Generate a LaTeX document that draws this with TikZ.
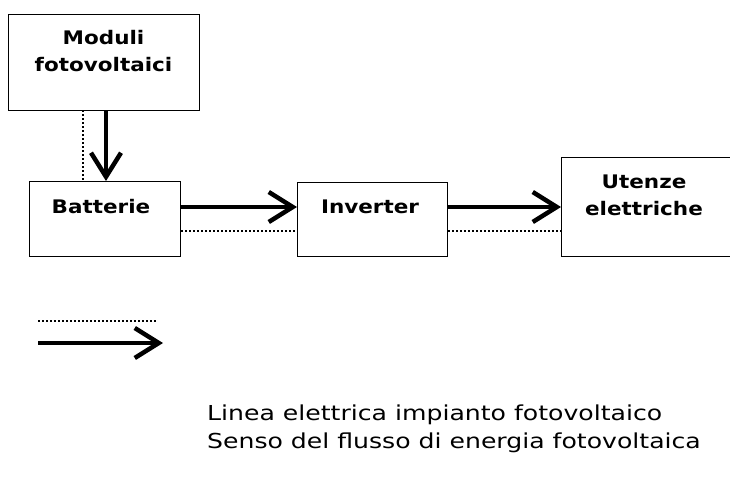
\documentclass[tikz,border=0pt]{standalone}
\usepackage{fontspec}
\setmainfont{DejaVu Sans}
\newfontfamily\boxfont[FakeStretch=1.15]{DejaVu Sans}
\newfontfamily\legfont[FakeStretch=1.22]{DejaVu Sans}
\usetikzlibrary{arrows.meta}
\begin{document}
\begin{tikzpicture}[x=1pt,y=-1pt,
  blk/.style={draw,line width=1.3pt,rectangle,anchor=north west,inner sep=0pt},
  lbl/.style={font=\boxfont\bfseries\fontsize{18.7}{27}\selectfont,align=center,inner sep=0pt},
  flow/.style={line width=4pt,-{Straight Barb[length=24pt,width=30pt,line width=4.5pt]}},
  elec/.style={line width=2pt,dash pattern=on 2pt off 2pt},
  leg/.style={font=\legfont\fontsize{20.6}{24}\selectfont,anchor=west,inner sep=0pt}]
\useasboundingbox (0,0) rectangle (730,479);
% boxes
\node[blk,minimum width=191pt,minimum height=96pt] (mod) at (8,14) {};
\node[blk,minimum width=151pt,minimum height=75pt] (bat) at (29,181) {};
\node[blk,minimum width=150pt,minimum height=74pt] (inv) at (297,182) {};
\node[blk,minimum width=180pt,minimum height=99pt] (ute) at (561,157) {};
% labels
\node[lbl] (modl) at (103.5,51) {Moduli\\fotovoltaici};
\node[lbl] (batl) at (101,207) {Batterie};
\node[lbl] (invl) at (370,207) {Inverter};
\node[lbl] (utel) at (644,195) {Utenze\\elettriche};
% connectors
\draw[flow] (106,110) coordinate (ms) -- (106,181) coordinate (me);
\draw[elec] (83,110) coordinate (md1) -- (83,181) coordinate (md2);
\draw[flow] (bat.east |- 0,207) -- (inv.west |- 0,207);
\draw[elec] (bat.east |- 0,231) -- (inv.west |- 0,231);
\draw[flow] (inv.east |- 0,207) -- (ute.west |- 0,207);
\draw[elec] (inv.east |- 0,231) -- (ute.west |- 0,231);
% legend
\coordinate (l1a) at (38,321);
\coordinate (l1b) at (156,321);
\coordinate (l2a) at (38,343);
\coordinate (l2b) at (163,343);
\draw[elec] (l1a) -- (l1b);
\draw[flow] (l2a) -- (l2b);
\node[leg] (t1) at (207,415) {Linea elettrica impianto fotovoltaico};
\node[leg] (t2) at (207,443) {Senso del flusso di energia fotovoltaica};
\end{tikzpicture}
\end{document}
